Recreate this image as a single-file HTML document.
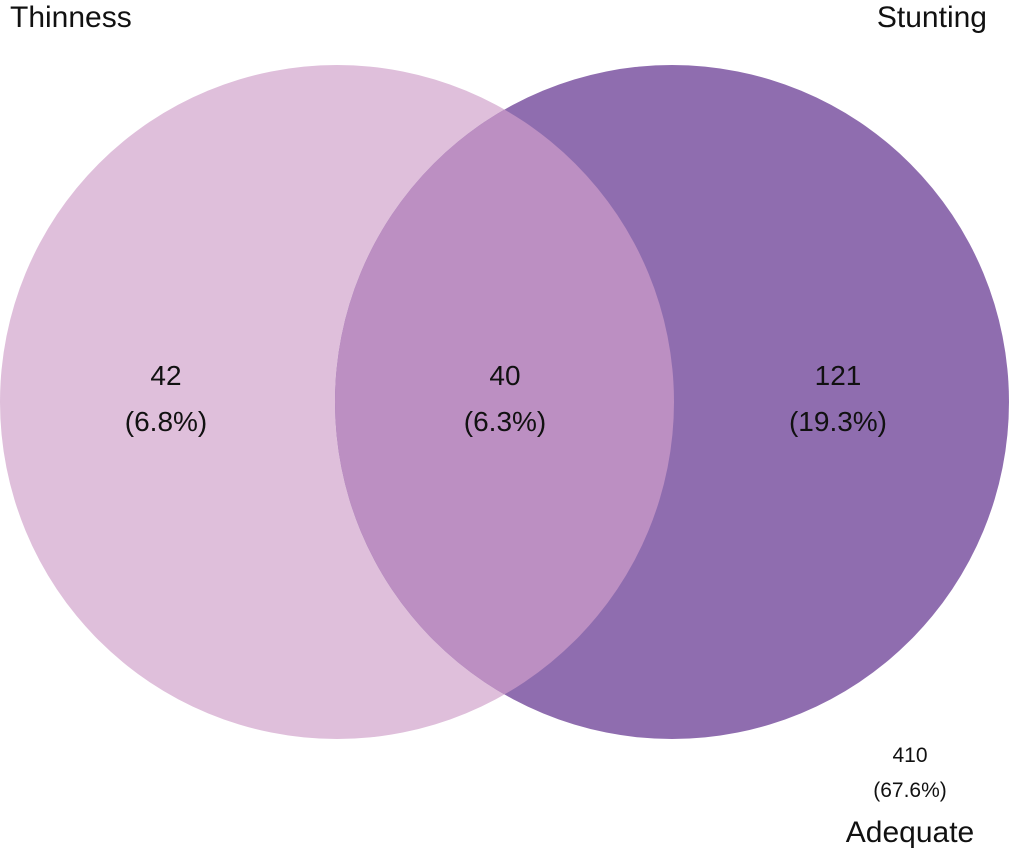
<!DOCTYPE html>
<html><head><meta charset="utf-8"><style>
html,body{margin:0;padding:0;background:#fff;width:1009px;height:851px;overflow:hidden}
svg{display:block;font-family:"Liberation Sans",sans-serif}
</style></head><body>
<svg id="chart" width="1009" height="851" viewBox="0 0 1009 851">
<defs><clipPath id="clipLeft"><circle cx="337" cy="402" r="337"/></clipPath></defs>
<circle cx="337" cy="402" r="337" fill="#dfbfdb"/>
<circle cx="672" cy="402" r="337" fill="#8f6daf"/>
<circle cx="672" cy="402" r="337" fill="#bc8fc2" clip-path="url(#clipLeft)"/>
<text x="10" y="27" font-size="30" fill="#111">Thinness</text>
<text x="987" y="27" font-size="30" fill="#111" text-anchor="end">Stunting</text>
<g id="values"></g>
<text x="910" y="762" font-size="21" fill="#111" text-anchor="middle">410</text>
<text x="910" y="797" font-size="21" fill="#111" text-anchor="middle">(67.6%)</text>
<text x="910" y="842" font-size="30" fill="#111" text-anchor="middle">Adequate</text>
</svg>
<script>
const regions = ["thinness-only", "both", "stunting-only"];
const counts = [42, 40, 121];
const percents = ["(6.8%)", "(6.3%)", "(19.3%)"];
const g = document.getElementById('values');
const xs = [166, 505, 838];
for (let i = 0; i < regions.length; i++) {
  const t1 = document.createElementNS('http://www.w3.org/2000/svg', 'text');
  t1.setAttribute('x', xs[i]); t1.setAttribute('y', 385);
  t1.setAttribute('font-size', '28'); t1.setAttribute('text-anchor', 'middle'); t1.setAttribute('fill', '#111');
  t1.textContent = counts[i];
  
  
  g.appendChild(t1);
  const t2 = document.createElementNS('http://www.w3.org/2000/svg', 'text');
  t2.setAttribute('x', xs[i]); t2.setAttribute('y', 431);
  t2.setAttribute('font-size', '28'); t2.setAttribute('text-anchor', 'middle'); t2.setAttribute('fill', '#111');
  t2.textContent = percents[i];
  
  
  g.appendChild(t2);
}
</script>
</body></html>
